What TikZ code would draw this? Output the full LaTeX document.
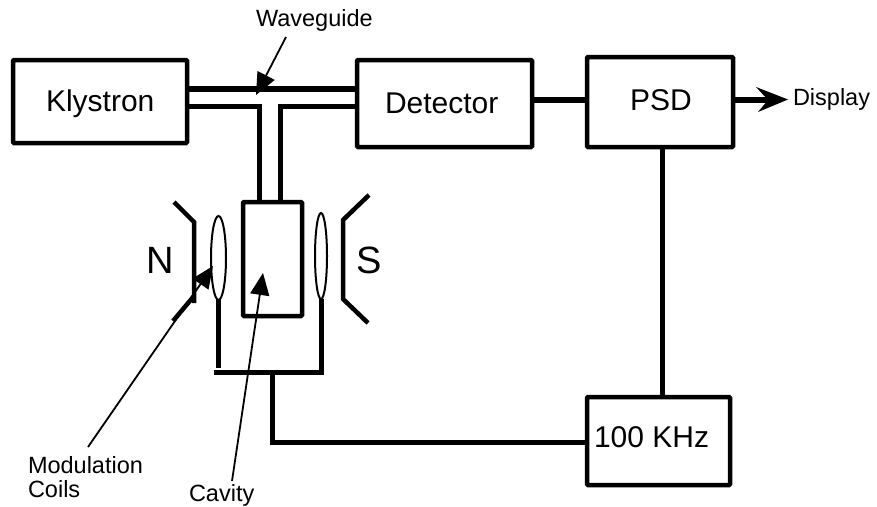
\documentclass[tikz,border=0pt]{standalone}
\usepackage{fontspec}
\setmainfont{Liberation Sans}
\usetikzlibrary{arrows.meta,shapes.geometric}
\tikzset{
  blockbox/.style={draw,line width=4.5pt,rounded corners=1pt,inner sep=0pt,outer sep=0pt,anchor=north west},
  boxtext/.style={font=\fontsize{30}{30}\selectfont,inner sep=0pt,outer sep=0pt,anchor=base west},
  wire/.style={line width=5pt,line cap=butt},
  wirethick/.style={line width=6.5pt},
  magnet/.style={line width=4.5pt,line join=miter},
  coil/.style={draw,line width=2pt,ellipse,inner sep=0pt,outer sep=0pt},
  note/.style={font=\fontsize{23.5}{24}\selectfont,inner sep=0pt,outer sep=0pt,anchor=base west},
  pole/.style={font=\fontsize{38}{38}\selectfont,inner sep=0pt,outer sep=0pt,anchor=base west},
  pointer/.style={line width=1.8pt,-{Triangle[length=22pt,width=19pt]}},
}
\begin{document}
\begin{tikzpicture}[x=1pt,y=-1pt]
\useasboundingbox (0,0) rectangle (877,506);
\node[blockbox,minimum width=174pt,minimum height=83pt] (kly) at (13,60) {};
\node[blockbox,minimum width=175pt,minimum height=87pt] (det) at (357,60) {};
\node[blockbox,minimum width=146pt,minimum height=90pt] (psd) at (587,57) {};
\node[blockbox,minimum width=143pt,minimum height=88pt] (osc) at (587,397) {};
\node[blockbox,minimum width=59pt,minimum height=114pt] (cav) at (243,202) {};
\node[boxtext] (klyt) at (46,111) {Klystron};
\node[boxtext] (dett) at (385,113) {Detector};
\node[boxtext] (psdt) at (630,110) {PSD};
\node[boxtext] (osct) at (594,447) {100 KHz};
% waveguide
\draw[wirethick] (kly.east |- 0,89) -- (det.west |- 0,89);
\draw[wire] (kly.east |- 0,106) -- (261.5,106);
\draw[wire] (det.west |- 0,106) -- (277.5,106);
\draw[wire] (259.5,103.5) -- (259.5,202);
\draw[wire] (280,103.5) -- (280,202);
% signal path
\draw[wirethick] (det.east |- 0,100) -- (psd.west |- 0,100);
\draw[line width=5.5pt] (psd.east |- 0,100) -- (768,100);
\fill (788,99.5) -- (756,87) -- (768,100) -- (758,112) -- cycle;
\node[note] (disp) at (793,105) {Display};
\draw[wire] (662,147) -- (662,397);
% magnets
\draw[magnet] (174,202) -- (194,222) -- (194,303);
\draw[magnet] (194,296) -- (173,321);
\draw[magnet] (369,195) -- (343,220) -- (343,299) -- (368,323);
\node[pole] (n) at (146,273) {N};
\node[pole] (s) at (356,273) {S};
% coils
\node[coil,minimum width=15pt,minimum height=84pt] (lc) at (218.5,258) {};
\node[coil,minimum width=12pt,minimum height=86pt] (rc) at (321,256) {};
\draw[wire] (218,300) -- (218,368);
\draw[wire,line join=miter] (321,299) -- (321,372) -- (214,372);
\draw[wire,line join=miter] (272,372) -- (272,442) -- (osc.west |- 0,442);
% labels and pointers
\node[note] (wg) at (256,27) {Waveguide};
\node[note] (mc) at (28,473) {Modulation};
\node[note] (mc2) at (28,497) {Coils};
\node[note] (cv) at (189,501) {Cavity};
\draw[pointer] (286,37) -- (256,95);
\draw[pointer] (88,447) -- (213,266);
\draw[pointer] (232,481) -- (263,273);
\end{tikzpicture}
\end{document}
